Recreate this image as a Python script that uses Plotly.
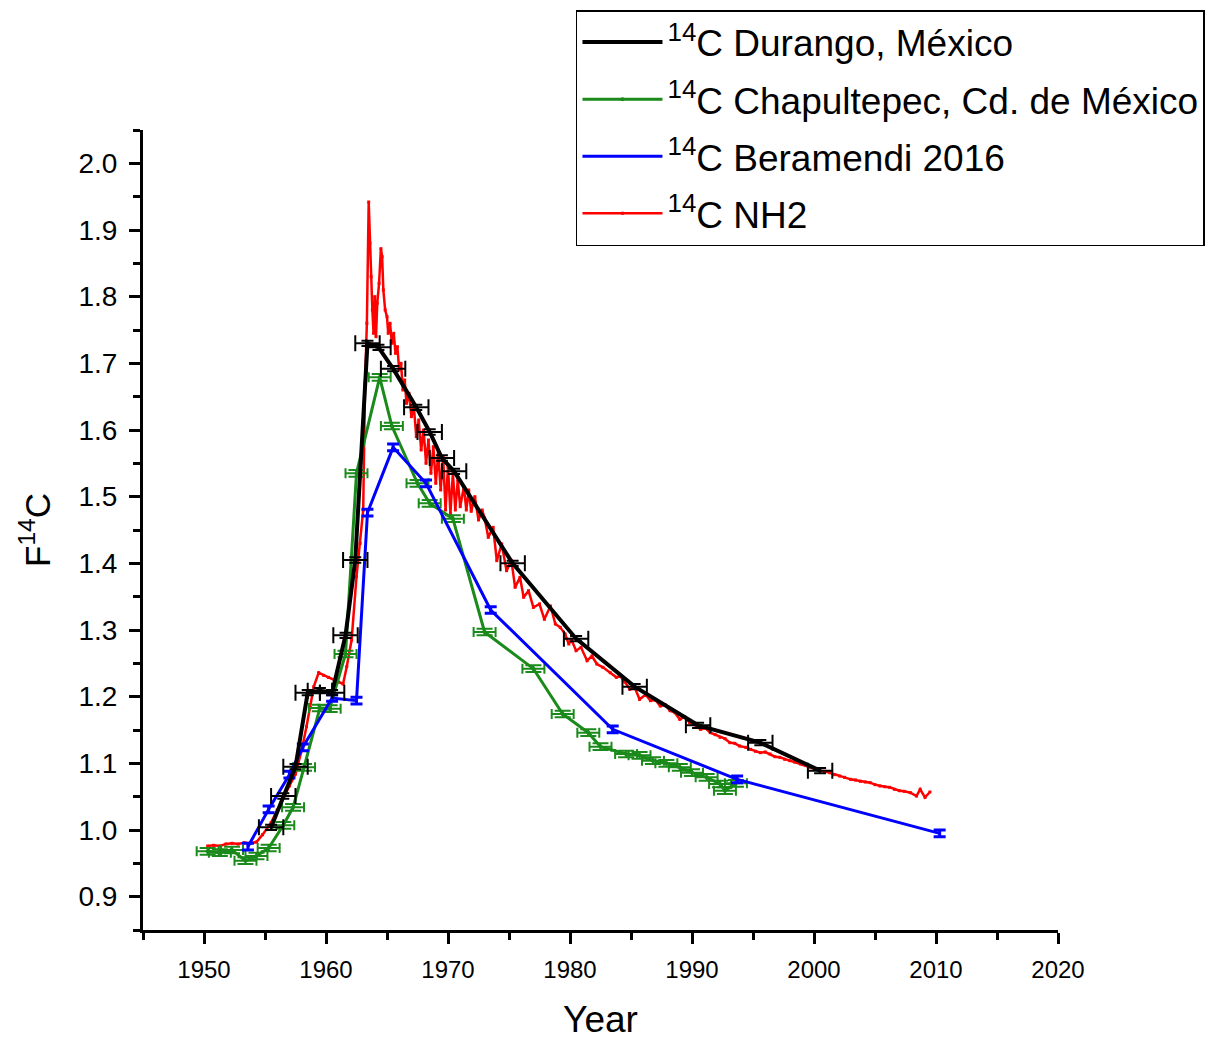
import plotly.graph_objects as go

# ---------------- data ----------------
durango_year = [1955.5, 1956.5, 1957.5, 1958.5, 1959.5, 1960.5, 1961.6, 1962.4, 1963.4, 1964.3,
                1965.5, 1967.4, 1968.5, 1969.5, 1970.5, 1975.3, 1980.5, 1985.3, 1990.5, 1995.6, 2000.5]
durango_f14c = [1.004, 1.051, 1.095, 1.206, 1.209, 1.206, 1.292, 1.405, 1.730, 1.724,
                1.692, 1.634, 1.597, 1.558, 1.538, 1.400, 1.287, 1.215, 1.157, 1.131, 1.089]

chapul_year = [1950.3, 1951.3, 1952.3, 1953.4, 1954.3, 1955.3, 1956.5, 1957.3, 1958.2, 1959.5,
               1960.3, 1961.6, 1962.5, 1964.4, 1965.4, 1967.5, 1968.5, 1970.4, 1973.0, 1977.0,
               1979.4, 1981.5, 1982.5, 1984.6, 1985.7, 1986.8, 1987.9, 1989.0, 1990.0, 1991.2,
               1992.3, 1992.7, 1993.6]
chapul_f14c = [0.968, 0.966, 0.970, 0.954, 0.961, 0.973, 1.007, 1.034, 1.094, 1.183,
               1.182, 1.264, 1.535, 1.679, 1.606, 1.520, 1.490, 1.467, 1.297, 1.242,
               1.174, 1.146, 1.125, 1.114, 1.112, 1.104, 1.100, 1.094, 1.086, 1.079,
               1.069, 1.059, 1.070]

beram_year = [1953.6, 1955.3, 1957.0, 1958.1, 1960.5, 1962.5, 1963.4, 1965.5, 1968.2, 1973.5,
              1983.5, 1993.7, 2010.3]
beram_f14c = [0.975, 1.031, 1.083, 1.124, 1.198, 1.194, 1.476, 1.574, 1.520, 1.330,
              1.151, 1.076, 0.995]

nh2_year = [1950.3, 1950.8, 1951.3, 1951.8, 1952.3, 1952.8, 1953.3, 1953.8, 1954.3, 1954.8,
            1955.5, 1956.0, 1956.5, 1957.0, 1957.5, 1958.0, 1958.4, 1958.7, 1959.0, 1959.4,
            1959.8, 1960.2, 1960.7, 1961.0, 1961.4, 1961.7, 1962.1, 1962.5, 1962.8, 1963.05,
            1963.2, 1963.35, 1963.5, 1963.6, 1963.7, 1963.8, 1963.9, 1964.0, 1964.1, 1964.2,
            1964.35, 1964.5, 1964.6, 1964.7, 1964.85, 1965.0, 1965.1, 1965.25, 1965.4, 1965.55,
            1965.7, 1965.85, 1966.0, 1966.15, 1966.3, 1966.45, 1966.6, 1966.8, 1967.0, 1967.2,
            1967.4, 1967.6, 1967.8, 1968.0, 1968.2, 1968.4, 1968.6, 1968.8, 1969.0, 1969.2,
            1969.4, 1969.6, 1969.8, 1970.0, 1970.2, 1970.4, 1970.6, 1970.8, 1971.0, 1971.3,
            1971.5, 1971.7, 1971.9, 1972.2, 1972.5, 1972.8, 1973.0, 1973.3, 1973.7, 1974.0,
            1974.4, 1974.8, 1975.2, 1975.5, 1975.9, 1976.2, 1976.6, 1977.0, 1977.5, 1977.9,
            1978.4, 1978.8, 1979.2, 1979.6, 1979.9, 1980.1, 1980.5, 1980.9, 1981.4, 1981.8,
            1982.2, 1982.7, 1983.3, 1983.8, 1984.1, 1984.5, 1984.9, 1985.3, 1985.7, 1986.2,
            1986.6, 1987.0, 1987.4, 1987.8, 1988.2, 1988.6, 1989.0, 1989.4, 1989.8, 1990.2,
            1990.7, 1991.1, 1991.5, 1991.9, 1992.3, 1992.7, 1993.1, 1993.5, 1993.9, 1994.4,
            1994.8, 1995.2, 1995.6, 1996.0, 1996.4, 1996.8, 1997.2, 1997.6, 1998.0, 1998.4,
            1998.9, 1999.3, 1999.7, 2000.1, 2000.5, 2000.9, 2001.3, 2001.7, 2002.1, 2002.5,
            2003.0, 2003.4, 2003.8, 2004.2, 2004.6, 2005.0, 2005.4, 2005.8, 2006.2, 2006.6,
            2007.0, 2007.4, 2007.9, 2008.4, 2008.7, 2009.1, 2009.5]
nh2_f14c = [0.976, 0.977, 0.976, 0.979, 0.980, 0.979, 0.981, 0.980, 0.982, 0.993,
            1.011, 1.030, 1.049, 1.066, 1.084, 1.119, 1.155, 1.184, 1.215, 1.236,
            1.232, 1.229, 1.225, 1.222, 1.219, 1.245, 1.285, 1.380, 1.430, 1.480,
            1.670, 1.760, 1.942, 1.880, 1.830, 1.780, 1.745, 1.800, 1.740, 1.790,
            1.820, 1.872, 1.860, 1.810, 1.780, 1.770, 1.745, 1.760, 1.730, 1.745,
            1.715, 1.725, 1.690, 1.700, 1.660, 1.675, 1.640, 1.655, 1.620, 1.635,
            1.590, 1.615, 1.570, 1.600, 1.550, 1.585, 1.535, 1.575, 1.520, 1.565,
            1.510, 1.560, 1.480, 1.545, 1.475, 1.535, 1.480, 1.525, 1.485, 1.515,
            1.480, 1.510, 1.478, 1.500, 1.465, 1.480, 1.468, 1.439, 1.454, 1.404,
            1.429, 1.389, 1.404, 1.364, 1.379, 1.349, 1.359, 1.334, 1.339, 1.316,
            1.336, 1.309, 1.304, 1.294, 1.279, 1.286, 1.269, 1.274, 1.254, 1.261,
            1.249, 1.244, 1.236, 1.229, 1.231, 1.222, 1.211, 1.214, 1.196, 1.203,
            1.194, 1.195, 1.186, 1.188, 1.179, 1.176, 1.166, 1.170, 1.161, 1.158,
            1.151, 1.153, 1.146, 1.143, 1.139, 1.137, 1.131, 1.130, 1.126, 1.124,
            1.121, 1.118, 1.116, 1.117, 1.114, 1.110, 1.109, 1.106, 1.104, 1.102,
            1.099, 1.097, 1.094, 1.092, 1.089, 1.088, 1.086, 1.083, 1.081, 1.079,
            1.076, 1.075, 1.073, 1.072, 1.071, 1.068, 1.066, 1.065, 1.064, 1.061,
            1.059, 1.058, 1.056, 1.051, 1.061, 1.049, 1.057]

x_tickvals = [1950, 1960, 1970, 1980, 1990, 2000, 2010, 2020]
x_minor = [1945, 1955, 1965, 1975, 1985, 1995, 2005, 2015]
y_tickvals = [0.9, 1.0, 1.1, 1.2, 1.3, 1.4, 1.5, 1.6, 1.7, 1.8, 1.9, 2.0]
y_minor = [0.85, 0.95, 1.05, 1.15, 1.25, 1.35, 1.45, 1.55, 1.65, 1.75, 1.85, 1.95, 2.05]

FONT = "Arial, Liberation Sans, sans-serif"

fig = go.Figure()

fig.add_trace(go.Scatter(
    x=nh2_year, y=nh2_f14c, mode="lines+markers", name="<sup>14</sup>C NH2",
    line=dict(color="#ff0000", width=2.5),
    marker=dict(symbol="square", size=3, color="#ff0000"),
    legendgroup="d", legendrank=4))

fig.add_trace(go.Scatter(
    x=chapul_year, y=chapul_f14c, mode="lines+markers", name="<sup>14</sup>C Chapultepec, Cd. de México",
    line=dict(color="#1a8a1a", width=3),
    marker=dict(symbol="circle", size=4, color="#1a8a1a"),
    error_x=dict(type="constant", value=0.9, color="#1a8a1a", thickness=2, width=5),
    error_y=dict(type="constant", value=0.005, color="#1a8a1a", thickness=2, width=8),
    legendgroup="b", legendrank=2))

fig.add_trace(go.Scatter(
    x=beram_year, y=beram_f14c, mode="lines", name="<sup>14</sup>C Beramendi 2016",
    line=dict(color="#0000ff", width=3),
    error_y=dict(type="constant", value=0.005, color="#0000ff", thickness=3, width=6),
    legendgroup="c", legendrank=3))

fig.add_trace(go.Scatter(
    x=durango_year, y=durango_f14c, mode="lines", name="<sup>14</sup>C Durango, México",
    line=dict(color="#000000", width=4),
    error_x=dict(type="constant", value=1.0, color="#000000", thickness=2, width=8),
    error_y=dict(type="constant", value=0.004, color="#000000", thickness=2, width=6),
    legendgroup="a", legendrank=1))

fig.update_layout(
    width=1204, height=1032,
    margin=dict(l=135, r=154, t=122, b=110, autoexpand=False),
    paper_bgcolor="white", plot_bgcolor="white",
    font=dict(family=FONT, color="black"),
    showlegend=True,
    legend=dict(
        x=0.4732, y=1.15, xanchor="left", yanchor="top",
        bgcolor="white", bordercolor="black", borderwidth=1.5,
        font=dict(size=37, family=FONT, color="black"),
        traceorder="grouped", tracegroupgap=6, itemwidth=80,
    ),
    xaxis=dict(
        range=[1945, 2020], tickvals=x_tickvals, ticktext=[str(v) for v in x_tickvals],
        showgrid=False, zeroline=False, showline=True, linecolor="black", linewidth=3,
        ticks="outside", ticklen=11, tickwidth=2.5, tickcolor="black",
        minor=dict(tickvals=x_minor, ticks="outside", ticklen=7, tickwidth=2.5, tickcolor="black"),
        tickfont=dict(size=24, family=FONT), ticklabelstandoff=5, automargin=False,
        title=dict(text="Year", font=dict(size=37, family=FONT), standoff=39),
    ),
    yaxis=dict(
        range=[0.85, 2.05], tickvals=y_tickvals, ticktext=[f"{v:.1f}" for v in y_tickvals],
        showgrid=False, zeroline=False, showline=True, linecolor="black", linewidth=3,
        ticks="outside", ticklen=11, tickwidth=2.5, tickcolor="black",
        minor=dict(tickvals=y_minor, ticks="outside", ticklen=7, tickwidth=2.5, tickcolor="black"),
        tickfont=dict(size=28, family=FONT), ticklabelstandoff=6, automargin=False,
        title=dict(text="F<sup>14</sup>C", font=dict(size=35, family=FONT), standoff=18),
    ),
)

fig.write_html("out.html")
